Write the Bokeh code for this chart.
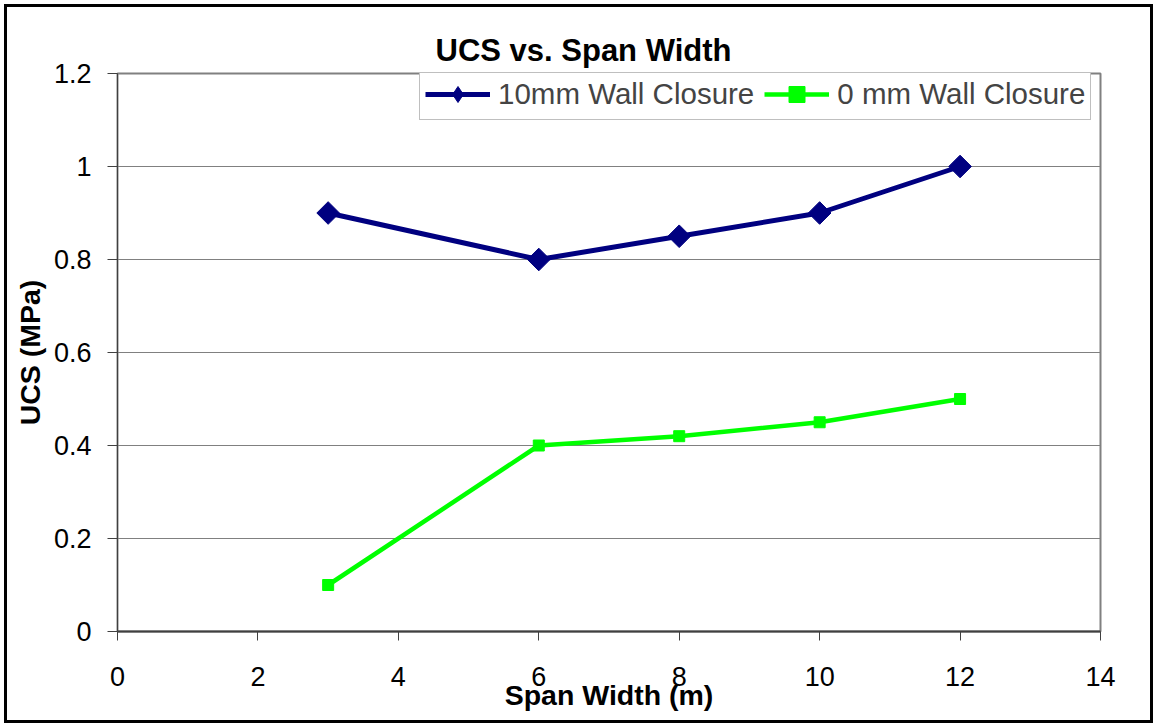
import math
from bokeh.plotting import figure
from bokeh.models import (FixedTicker, NumeralTickFormatter, Legend, LegendItem,
                          ColumnDataSource, Range1d)
from bokeh.embed import file_html
from bokeh.resources import INLINE

# ---- data ----
span_width = [3, 6, 8, 10, 12]
ucs_10mm = [0.9, 0.8, 0.85, 0.9, 1.0]
ucs_0mm = [0.1, 0.4, 0.42, 0.45, 0.5]
x_ticks = [0, 2, 4, 6, 8, 10, 12, 14]
y_ticks = [0, 0.2, 0.4, 0.6, 0.8, 1.0, 1.2]
title_text = "UCS vs. Span Width"
x_label = "Span Width (m)"
y_label = "UCS (MPa)"
series_names = ["10mm Wall Closure", "0 mm Wall Closure"]

FONT = "Liberation Sans"

p = figure(output_backend="svg", toolbar_location=None,
           frame_width=983, frame_height=558,
           min_border_left=110, min_border_right=50,
           min_border_top=66, min_border_bottom=89,
           x_range=Range1d(0, 14), y_range=Range1d(0, 1.2),
           title=title_text)
p.styles = {"border": "3px solid black", "margin-left": "4px", "margin-top": "4px"}
p.background_fill_color = "white"
p.border_fill_color = "white"
p.outline_line_color = "#808080"
p.outline_line_width = 2

# title
p.title.text_font = FONT
p.title.text_font_size = "31px"
p.title.text_font_style = "bold"
p.title.text_color = "black"
p.title.align = "left"
p.title.offset = 318
p.title.standoff = 11

# axes
p.xaxis.ticker = FixedTicker(ticks=x_ticks)
p.yaxis.ticker = FixedTicker(ticks=y_ticks)
p.yaxis.formatter = NumeralTickFormatter(format="0.[0]")
for ax in (p.xaxis, p.yaxis):
    ax.major_label_text_font = FONT
    ax.major_label_text_font_size = "27px"
    ax.major_label_text_color = "black"
    ax.major_tick_in = 0
    ax.minor_tick_in = 0
    ax.minor_tick_out = 0
    ax.major_tick_line_color = "#404040"
    ax.axis_line_color = "#404040"
    ax.axis_label_text_font = FONT
    ax.axis_label_text_font_size = "28.5px"
    ax.axis_label_text_font_style = "bold"
    ax.axis_label_text_color = "black"
p.xaxis.axis_label = x_label
p.yaxis.axis_label = y_label
p.xaxis.major_tick_out = 9
p.yaxis.major_tick_out = 10
p.xaxis.axis_line_width = 2
p.yaxis.axis_line_width = 1
p.xaxis.major_label_standoff = 26
p.yaxis.major_label_standoff = 16
p.xaxis.axis_label_standoff = -10
p.yaxis.axis_label_standoff = 5

p.xgrid.grid_line_color = None
p.ygrid.grid_line_color = "#808080"
p.ygrid.grid_line_width = 1

src1 = ColumnDataSource(dict(x=span_width, y=ucs_10mm))
src2 = ColumnDataSource(dict(x=span_width, y=ucs_0mm))

l1 = p.line("x", "y", source=src1, line_color="#000080", line_width=5)
m1 = p.scatter("x", "y", source=src1, marker="square", angle=math.pi / 4, size=16,
               fill_color="#000080", line_color="#000080")
l2 = p.line("x", "y", source=src2, line_color="#00FF00", line_width=4.5)
m2 = p.scatter("x", "y", source=src2, marker="square", size=11,
               fill_color="#00FF00", line_color="#00FF00")
# diamond glyph used for the legend swatch (zero size in the plot itself)
m1_leg = p.scatter("x", "y", source=src1, marker="diamond", size=0,
                   fill_color="#000080", line_color="#000080")

legend = Legend(items=[LegendItem(label=series_names[0], renderers=[l1, m1_leg]),
                       LegendItem(label=series_names[1], renderers=[l2, m2])],
                location=(302, 511), orientation="horizontal",
                label_text_font=FONT, label_text_font_size="29.5px",
                glyph_width=65, glyph_height=40, label_standoff=8, spacing=10,
                padding=5, margin=0,
                border_line_color="#808080", border_line_width=1.5,
                background_fill_color="white", background_fill_alpha=1)
p.add_layout(legend, "center")

open("out.html", "w").write(file_html(p, INLINE))
